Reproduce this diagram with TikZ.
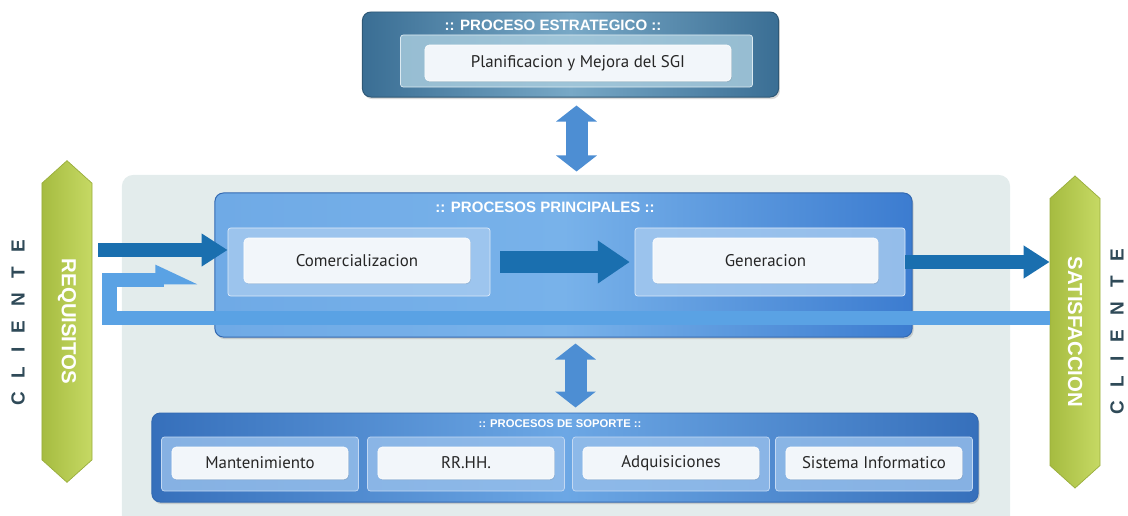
\documentclass[tikz,border=0pt]{standalone}
\usepackage{fontspec}
\setmainfont{PT Sans}
\newfontfamily\headfont{Liberation Sans}
\usetikzlibrary{arrows.meta,positioning,shapes.symbols,shadows}
\definecolor{stratdark}{HTML}{3A6E94}
\definecolor{stratlight}{HTML}{78A8C6}
\definecolor{stratband}{HTML}{A6CADC}
\definecolor{maindark}{HTML}{3C7CD0}
\definecolor{mainlight}{HTML}{78B2EA}
\definecolor{mainband}{HTML}{A4C9EF}
\definecolor{flowdark}{HTML}{1A6FAF}
\definecolor{flowlight}{HTML}{5AA2E4}
\definecolor{linkblue}{HTML}{4D8ED3}
\definecolor{reqgreen}{HTML}{B4CC46}
\definecolor{reqlight}{HTML}{C6D964}
\definecolor{panelgray}{HTML}{E3ECEC}
\definecolor{clientgray}{HTML}{2F4A58}
\definecolor{boxwhite}{HTML}{F2F6FA}
\newcommand{\cgap}{\hspace{10pt}}

\begin{document}
\begin{tikzpicture}[x=0.025cm, y=-0.025cm,
  procbox/.style={rounded corners=6pt, line width=0.7pt, drop shadow={opacity=0.3, shadow xshift=1pt, shadow yshift=-1.5pt}},
  bandbox/.style={rounded corners=2pt, fill=#1, fill opacity=0.85, draw=white!60!#1, line width=0.5pt},
  labelbox/.style={rounded corners=3pt, fill=boxwhite, draw=white, text=black!85,
    font=\fontsize{12}{14}\selectfont, drop shadow={opacity=0.2, shadow xshift=0.6pt, shadow yshift=-0.8pt}},
  boxtitle/.style={font=\headfont\bfseries\fontsize{#1}{#1}\selectfont, text=white, inner sep=1pt},
  banner/.style={signal, signal to=north and south, signal pointer angle=96, left color=reqgreen!92!black, right color=reqlight,
    draw=reqgreen!85!black, line width=0.5pt, minimum width=1.25cm, text=white, font=\headfont\bfseries\fontsize{14.5}{14.5}\selectfont, inner sep=0pt},
  flowarrow/.style={line width=0.35cm, draw=flowdark, -{Triangle[length=0.65cm, width=0.78cm]}},
  linkarrow/.style={line width=0.55cm, draw=linkblue, {Triangle[length=0.4cm, width=1cm]}-{Triangle[length=0.4cm, width=1cm]}}]
\useasboundingbox (0,0) rectangle (1128,515);

% background panel
\node[rounded corners=8pt, fill=panelgray, minimum width=22.2cm, minimum height=9.125cm] (panel) at (566,357.5) {};

% strategic process
\node[procbox, draw=stratdark!80!black, left color=stratdark, right color=stratdark, middle color=stratlight,
  minimum width=10.4cm, minimum height=2.125cm] (strat) at (570.5,54.5) {};
\node[bandbox=stratband, minimum width=8.8cm, minimum height=1.3cm] (stratband) at (576.5,61) {};
\node[labelbox, minimum width=7.65cm, minimum height=0.9cm] (plan) at (578,63) {Planificacion y Mejora del SGI};
\node[boxtitle=10.7] (strattitle) at (553,25) {:: PROCESO ESTRATEGICO ::};

% main processes
\node[procbox, draw=maindark!85!black, left color=mainlight!85!maindark, right color=maindark, middle color=mainlight,
  minimum width=17.425cm, minimum height=3.6cm] (main) at (563.5,265) {};
\node[boxtitle=10.7] (maintitle) at (545,207) {:: PROCESOS PRINCIPALES ::};
\node[bandbox=mainband, minimum width=6.55cm, minimum height=1.7cm] (comband) at (359,262) {};
\node[labelbox, minimum width=5.65cm, minimum height=1.125cm] (comer) at (357,260.5) {Comercializacion};
\node[bandbox=mainband, minimum width=6.75cm, minimum height=1.7cm] (genband) at (770,262) {};
\node[labelbox, minimum width=5.625cm, minimum height=1.125cm] (gener) at (765.5,260.5) {Generacion};

% support processes
\node[procbox, draw=maindark!85!black, left color=maindark!90!black, right color=maindark!90!black, middle color=mainlight!80!maindark,
  minimum width=20.65cm, minimum height=2.225cm] (support) at (565,457.5) {};
\node[boxtitle=8] (suptitle) at (560,424) {:: PROCESOS DE SOPORTE ::};
\foreach \x/\nm/\lbl in {260/mant/Mantenimiento, 466/rrhh/RR.HH., 671/adq/Adquisiciones, 874/sist/Sistema Informatico} {
  \node[bandbox=mainband!85!maindark, minimum width=4.92cm, minimum height=1.35cm] (\nm band) at (\x,464) {};
  \node[labelbox, minimum width=4.4cm, minimum height=0.8cm] (\nm) at (\x,463) {\lbl};
}

% client banners
\node[banner, minimum height=7.325cm] (req) at (67,321.5) {\rotatebox{-90}{REQUISITOS}};
\node[banner, minimum height=7cm] (sat) at (1075,332) {\rotatebox{-90}{SATISFACCION}};
\node[text=clientgray, font=\headfont\bfseries\fontsize{13.5}{13.5}\selectfont, rotate=90] (clientin) at (18,323)
  {C\cgap L\cgap I\cgap E\cgap N\cgap T\cgap E};
\node[text=clientgray, font=\headfont\bfseries\fontsize{13.5}{13.5}\selectfont, rotate=90] (clientout) at (1117,332)
  {C\cgap L\cgap I\cgap E\cgap N\cgap T\cgap E};

% feedback loop
\coordinate (loopend) at ([xshift=-0.7cm, yshift=-0.45cm]comband.west);
\draw[line width=0.36cm, draw=flowlight, -{Triangle[harpoon, length=0.85cm, width=0.7cm]}]
  ([yshift=0.35cm]sat.west) -| ([xshift=0.425cm]req.east |- loopend) -- (loopend);

% flows
\draw[flowarrow] ([xshift=0.15cm, yshift=0.3cm]req.east |- comband.west) -- ([yshift=0.3cm]comband.west);
\draw[flowarrow, line width=0.57cm, -{Triangle[length=0.8cm, width=1.02cm]}, shorten <=0.25cm, shorten >=0.12cm] (comband.east) -- (genband.west);
\draw[flowarrow] (genband.east) -- (sat.west |- genband.east);

% links between levels
\draw[linkarrow, shorten <=0.2cm, shorten >=0.525cm] ([xshift=0.15cm]strat.south) -- ([xshift=0.15cm]strat.south |- main.north);
\draw[linkarrow, shorten <=0.15cm, shorten >=0.125cm] ([xshift=0.3cm]main.south) -- ([xshift=0.3cm]main.south |- support.north);
\end{tikzpicture}
\end{document}
